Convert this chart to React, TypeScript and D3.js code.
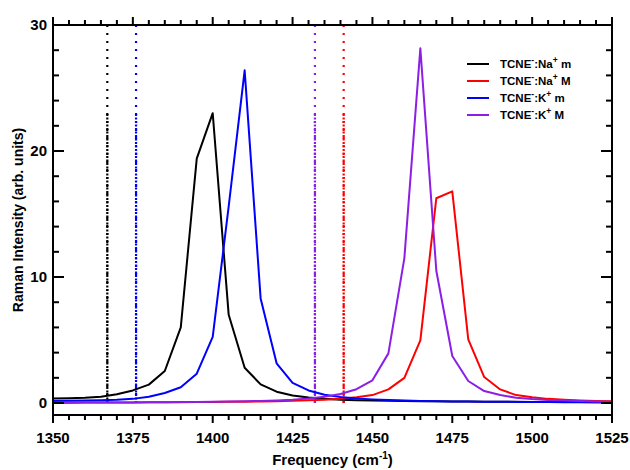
import React from 'react';
import * as d3 from 'd3';

// frequency grid (cm-1)
const freq = [
  1350, 1355, 1360, 1365, 1370, 1375, 1380, 1385, 1390, 1395, 1400, 1405,
  1410, 1415, 1420, 1425, 1430, 1435, 1440, 1445, 1450, 1455, 1460, 1465,
  1470, 1475, 1480, 1485, 1490, 1495, 1500, 1505, 1510, 1515, 1520, 1525,
];

const naMinor = [
  0.35, 0.38, 0.42, 0.5, 0.69, 1.0, 1.46, 2.54, 6.0, 19.4, 23.0, 7.0,
  2.8, 1.48, 0.9, 0.6, 0.43, 0.33, 0.27, 0.23, 0.2, 0.18, 0.16, 0.15,
  0.14, 0.13, 0.12, 0.11, 0.1, 0.1, 0.09, 0.09, 0.08, 0.08, 0.07, 0.07,
];
const naMajor = [
  0.03, 0.03, 0.04, 0.04, 0.05, 0.05, 0.06, 0.07, 0.07, 0.08, 0.09, 0.1,
  0.11, 0.13, 0.15, 0.18, 0.22, 0.27, 0.34, 0.45, 0.63, 1.08, 2.0, 4.97,
  16.25, 16.8, 5.05, 2.06, 1.08, 0.63, 0.45, 0.33, 0.26, 0.21, 0.17, 0.14,
];
const kMinor = [
  0.17, 0.18, 0.2, 0.22, 0.26, 0.33, 0.5, 0.8, 1.25, 2.33, 5.25, 15.6,
  26.4, 8.3, 3.15, 1.6, 1.0, 0.66, 0.47, 0.36, 0.29, 0.24, 0.2, 0.17,
  0.15, 0.13, 0.12, 0.11, 0.1, 0.09, 0.08, 0.08, 0.07, 0.07, 0.06, 0.06,
];
const kMajor = [
  0.03, 0.03, 0.04, 0.04, 0.05, 0.05, 0.06, 0.07, 0.08, 0.09, 0.1, 0.12,
  0.14, 0.17, 0.21, 0.27, 0.36, 0.5, 0.72, 1.1, 1.8, 3.94, 11.5, 28.15,
  10.5, 3.73, 1.75, 0.95, 0.63, 0.42, 0.32, 0.25, 0.2, 0.16, 0.13, 0.11,
];

// calculated band positions (dotted markers)
const markerFreq = [1367, 1376, 1432, 1441];
const markerColor = ['#000000', '#0000ff', '#8c1ee6', '#ff0000'];

const xTicks = [1350, 1375, 1400, 1425, 1450, 1475, 1500, 1525];
const yTicks = [0, 10, 20, 30];

const series = [
  { ion: 'Na', mode: 'm', color: '#000000', values: naMinor },
  { ion: 'Na', mode: 'M', color: '#ff0000', values: naMajor },
  { ion: 'K', mode: 'm', color: '#0000ff', values: kMinor },
  { ion: 'K', mode: 'M', color: '#8c1ee6', values: kMajor },
];

const W = 630;
const H = 470;
const left = 53, right = 612, top = 25, bottom = 415;
const font = '"Liberation Sans", Arial, sans-serif';

export default function App() {
  const x = d3.scaleLinear().domain([1350, 1525]).range([left, right]);
  const y = d3.scaleLinear().domain([-0.95, 30]).range([bottom, top]);

  const line = d3.line<number>()
    .x((_, i) => x(freq[i]))
    .y(d => y(d));

  const xMinor = d3.range(1350, 1526, 5).filter(v => !xTicks.includes(v));
  const yMinor = d3.range(0, 31, 2).filter(v => !yTicks.includes(v));

  return (
    <div style={{ position: 'absolute', left: 0, top: 0 }}>
      <svg width={W} height={H} style={{ display: 'block', background: '#fff' }}>
        {/* dotted markers */}
        {markerFreq.map((f, i) => (
          <g key={f} stroke={markerColor[i]} strokeWidth={2.2}>
            <line x1={x(f)} x2={x(f)} y1={y(0)} y2={y(30)} strokeDasharray="2 6" />
            <line x1={x(f)} x2={x(f)} y1={y(0)} y2={y(23)} strokeDasharray="2 1.5" />
          </g>
        ))}

        {/* spectra */}
        {series.map(s => (
          <path key={s.ion + s.mode} d={line(s.values) || ''} fill="none"
            stroke={s.color} strokeWidth={2} strokeLinejoin="round" />
        ))}

        {/* frame */}
        <rect x={left} y={top} width={right - left} height={bottom - top}
          fill="none" stroke="#000" strokeWidth={2} />

        {/* x ticks, bottom + top, outward */}
        <g stroke="#000" strokeWidth={2}>
          {xTicks.map(v => (
            <g key={'xt' + v}>
              <line x1={x(v)} x2={x(v)} y1={bottom} y2={bottom + 8} />
              <line x1={x(v)} x2={x(v)} y1={top} y2={top - 8} />
            </g>
          ))}
          {xMinor.map(v => (
            <g key={'xm' + v}>
              <line x1={x(v)} x2={x(v)} y1={bottom} y2={bottom + 5} />
              <line x1={x(v)} x2={x(v)} y1={top} y2={top - 5} />
            </g>
          ))}
          {/* y ticks, left + right, inward */}
          {yTicks.map(v => (
            <g key={'yt' + v}>
              <line x1={left} x2={left + 11} y1={y(v)} y2={y(v)} />
              <line x1={right} x2={right - 11} y1={y(v)} y2={y(v)} />
            </g>
          ))}
          {yMinor.map(v => (
            <g key={'ym' + v}>
              <line x1={left} x2={left + 6} y1={y(v)} y2={y(v)} />
              <line x1={right} x2={right - 6} y1={y(v)} y2={y(v)} />
            </g>
          ))}
        </g>

        {/* tick labels */}
        <g fontFamily={font} fontWeight="bold" fontSize={15} fill="#000">
          {xTicks.map(v => (
            <text key={'xl' + v} x={x(v)} y={443} textAnchor="middle">{v}</text>
          ))}
          {yTicks.map(v => (
            <text key={'yl' + v} x={47} y={y(v) + 5} textAnchor="end">{v}</text>
          ))}
        </g>

        {/* axis titles */}
        <text x={(left + right) / 2} y={465} textAnchor="middle"
          fontFamily={font} fontWeight="bold" fontSize={15}>
          Frequency (cm<tspan dy={-6} fontSize={10}>-1</tspan><tspan dy={6}>)</tspan>
        </text>
        <text transform={`translate(23,${(top + bottom) / 2}) rotate(-90)`}
          textAnchor="middle" fontFamily={font} fontWeight="bold" fontSize={14}>
          Raman Intensity (arb. units)
        </text>

        {/* legend */}
        <g fontFamily={font} fontWeight="bold" fontSize={11.5}>
          {series.map((s, i) => {
            const ly = 64 + i * 17;
            return (
              <g key={'lg' + i}>
                <line x1={467} x2={489} y1={ly} y2={ly} stroke={s.color} strokeWidth={2} />
                <text x={500} y={ly + 4}>
                  TCNE<tspan dy={-5} fontSize={8.5}>-</tspan>
                  <tspan dy={5}>:{s.ion}</tspan>
                  <tspan dy={-5} fontSize={8.5}>+</tspan>
                  <tspan dy={5}> {s.mode}</tspan>
                </text>
              </g>
            );
          })}
        </g>
      </svg>
    </div>
  );
}
